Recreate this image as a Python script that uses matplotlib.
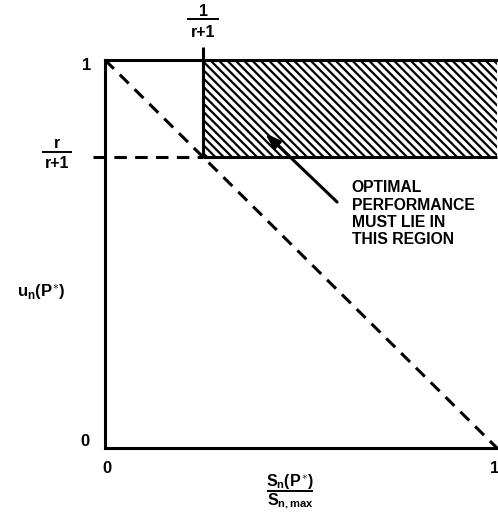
import matplotlib
matplotlib.use("Agg")
import matplotlib.pyplot as plt
from matplotlib.patches import Rectangle

plt.rcParams['font.family'] = ['Liberation Sans', 'DejaVu Sans']
plt.rcParams['font.weight'] = 'bold'
plt.rcParams['mathtext.fontset'] = 'custom'
plt.rcParams['mathtext.rm'] = 'Liberation Sans:bold'
plt.rcParams['mathtext.it'] = 'Liberation Sans:bold'
plt.rcParams['mathtext.bf'] = 'Liberation Sans:bold'
plt.rcParams['hatch.linewidth'] = 1.6
plt.rcParams['lines.scale_dashes'] = False

# ---- data ----
r = 3
x_bound = 1 / (r + 1)          # 1/(r+1)
y_bound = r / (r + 1)          # r/(r+1)
diag_x = [0, 1]
diag_y = [1, 0]
region_x = [x_bound, 1]
region_y = [y_bound, 1]
annotation_text = "OPTIMAL\nPERFORMANCE\nMUST LIE IN\nTHIS REGION"
xlabel_num = r'$S_n(P^{\ast})$'
xlabel_den = r'$S_{n,max}$'
ylabel_text = r'$u_n(P^{\ast})$'

fig = plt.figure(figsize=(4.98, 5.18), dpi=100)
ax = fig.add_axes([105 / 498, 70 / 518, 392 / 498, 388 / 518])
ax.set_xlim(0, 1)
ax.set_ylim(0, 1)
ax.set_xticks([])
ax.set_yticks([])
for s in ['left', 'bottom', 'top']:
    ax.spines[s].set_linewidth(2.2)
ax.spines['right'].set_visible(False)

lw = 2.2
# hatched region
rect = Rectangle((region_x[0], region_y[0]), region_x[1] - region_x[0],
                 region_y[1] - region_y[0], facecolor='white', edgecolor='black',
                 hatch='\\\\\\\\', linewidth=0, zorder=1)
ax.add_patch(rect)
# region borders
ax.plot([region_x[0], region_x[1]], [region_y[0], region_y[0]], color='black', lw=lw,
        solid_capstyle='butt', zorder=3, clip_on=False)
ax.plot([region_x[0], region_x[0]], [region_y[0], 1.034], color='black', lw=lw,
        solid_capstyle='butt', zorder=3, clip_on=False)

# dashed lines
ax.plot(diag_x, diag_y, color='black', lw=lw, linestyle=(0, (9, 6)), zorder=2,
        clip_on=False)
ax.plot([-0.03, x_bound], [y_bound, y_bound], color='black', lw=lw,
        linestyle=(0, (9, 6)), zorder=2, clip_on=False)

fs = 12
# tick labels
ax.text(-0.046, 0.985, '1', ha='center', va='center', fontsize=fs, fontweight='bold', clip_on=False)
ax.text(-0.05, 0.018, '0', ha='center', va='center', fontsize=fs, fontweight='bold', clip_on=False)
ax.text(0.005, -0.052, '0', ha='center', va='center', fontsize=fs, fontweight='bold', clip_on=False)
ax.text(0.995, -0.052, '1', ha='center', va='center', fontsize=fs, fontweight='bold', clip_on=False)

def fraction(xc, y_num, y_bar, y_den, half_w, num, den, size):
    ax.text(xc, y_num, num, ha='center', va='center', fontsize=size, fontweight='bold', clip_on=False)
    ax.plot([xc - half_w, xc + half_w], [y_bar, y_bar], color='black', lw=1.4,
            solid_capstyle='butt', clip_on=False)
    ax.text(xc, y_den, den, ha='center', va='center', fontsize=size, fontweight='bold', clip_on=False)

fraction(x_bound, 1.124, 1.106, 1.072, 0.041, '1', 'r+1', 11.5)
fraction(-0.122, 0.786, 0.763, 0.732, 0.038, 'r', 'r+1', 11.5)
fraction(0.472, -0.086, -0.111, -0.138, 0.058, xlabel_num, xlabel_den, 11.5)

ax.text(-0.163, 0.402, ylabel_text, ha='center', va='center', fontsize=12, clip_on=False)

ax.annotate('', xy=(0.408, 0.812), xytext=(0.592, 0.634),
            arrowprops=dict(arrowstyle='-|>,head_length=0.9,head_width=0.3',
                            color='black', lw=2.2, shrinkA=0, shrinkB=0), zorder=4)
ax.text(0.629, 0.69, annotation_text, ha='left', va='top', fontsize=11.3,
        fontweight='bold', linespacing=1.2, clip_on=False)

fig.savefig('out.png', dpi=100)
